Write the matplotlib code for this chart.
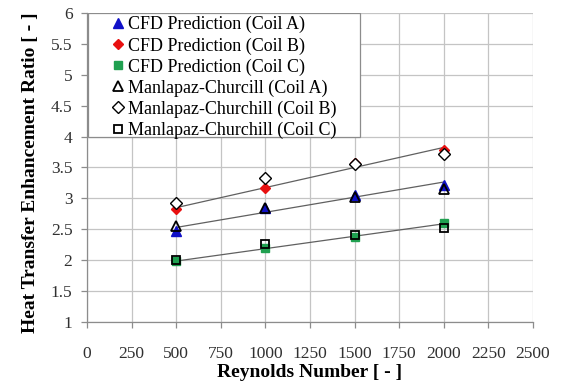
import numpy as np
import matplotlib
matplotlib.use('Agg')
import matplotlib.pyplot as plt
from matplotlib.patches import Rectangle

# Reynolds numbers
reynolds = [500, 1000, 1500, 2000]

# CFD predictions
cfd_a = [2.47, 2.85, 3.05, 3.22]
cfd_b = [2.83, 3.17, 3.57, 3.78]
cfd_c = [1.99, 2.19, 2.37, 2.60]

# Manlapaz-Churchill correlation
mc_a = [2.56, 2.84, 3.02, 3.15]
mc_b = [2.93, 3.33, 3.56, 3.72]
mc_c = [2.00, 2.26, 2.41, 2.52]

x_ticks = [0, 250, 500, 750, 1000, 1250, 1500, 1750, 2000, 2250, 2500]
y_ticks = [1, 1.5, 2, 2.5, 3, 3.5, 4, 4.5, 5, 5.5, 6]

plt.rcParams['font.family'] = ['Liberation Serif', 'DejaVu Serif']

fig = plt.figure(figsize=(5.63, 3.91), dpi=100)
ax = fig.add_axes([87 / 563, 1 - 322 / 391, (533 - 87) / 563, (322 - 13) / 391])

# linear trend lines through the CFD data
re = np.array(reynolds)
for vals in (cfd_b, cfd_a, cfd_c):
    k, b = np.polyfit(re, vals, 1)
    xs = np.array([re.min(), re.max()])
    ax.plot(xs, k * xs + b, color='#606060', linewidth=0.9, zorder=2)

ms = 7
ax.plot(reynolds, cfd_a, ls='none', marker='^', color='#1010c8', markersize=ms,
        label='CFD Prediction (Coil A)', zorder=3)
ax.plot(reynolds, cfd_b, ls='none', marker='D', color='#e81010', markersize=ms - 1.8,
        label='CFD Prediction (Coil B)', zorder=3)
ax.plot(reynolds, cfd_c, ls='none', marker='s', color='#20a050', markersize=ms - 1,
        label='CFD Prediction (Coil C)', zorder=3)
ax.plot(reynolds, mc_a, ls='none', marker='^', markerfacecolor='none', markeredgecolor='black',
        markeredgewidth=1.3, markersize=ms, label='Manlapaz-Churcill (Coil A)', zorder=4)
ax.plot(reynolds, mc_b, ls='none', marker='D', markerfacecolor='white', markeredgecolor='black',
        markeredgewidth=1.0, markersize=ms - 1.3, label='Manlapaz-Churchill (Coil B)', zorder=4)
ax.plot(reynolds, mc_c, ls='none', marker='s', markerfacecolor='none', markeredgecolor='black',
        markeredgewidth=1.3, markersize=ms - 1, label='Manlapaz-Churchill (Coil C)', zorder=4)

ax.set_xlim(0, 2500)
ax.set_ylim(1, 6)
ax.set_xticks(x_ticks)
ax.set_yticks(y_ticks)
ax.set_yticklabels([f'{v:g}' for v in y_ticks])
ax.grid(True, color='#c4c4c4', linewidth=0.9)
ax.set_axisbelow(True)

for side in ('top', 'right'):
    ax.spines[side].set_visible(False)
for side in ('left', 'bottom'):
    ax.spines[side].set_color('#8c8c8c')
    ax.spines[side].set_linewidth(0.9)

ax.tick_params(axis='both', colors='#8c8c8c', labelcolor='#303030', labelsize=12.5,
               length=4.5, width=0.9, direction='out')
ax.tick_params(axis='x', pad=13)
ax.tick_params(axis='y', pad=6)

ax.set_xlabel('Reynolds Number [ - ]', fontsize=14, fontweight='bold', labelpad=1.5)
ax.set_ylabel('Heat Transfer Enhancement Ratio [ - ]', fontsize=14, fontweight='bold')
ax.yaxis.set_label_coords(-0.108, 0.482)

# legend box (Excel style: wide frame with extra room on both sides)
box = Rectangle((0.002, (322 - 137) / 309), (360 - 88) / 446, 1 - (322 - 137) / 309,
                transform=ax.transAxes, facecolor='white', edgecolor='#8c8c8c',
                linewidth=0.9, zorder=4.5)
ax.add_patch(box)

leg = ax.legend(loc='upper left', bbox_to_anchor=((111 - 87) / 446, 0.99), fontsize=13,
                frameon=False, borderpad=0, labelspacing=0.21, handlelength=0.8,
                handletextpad=0.15, borderaxespad=0)
leg.set_zorder(5)

fig.savefig('out.png', dpi=100)
